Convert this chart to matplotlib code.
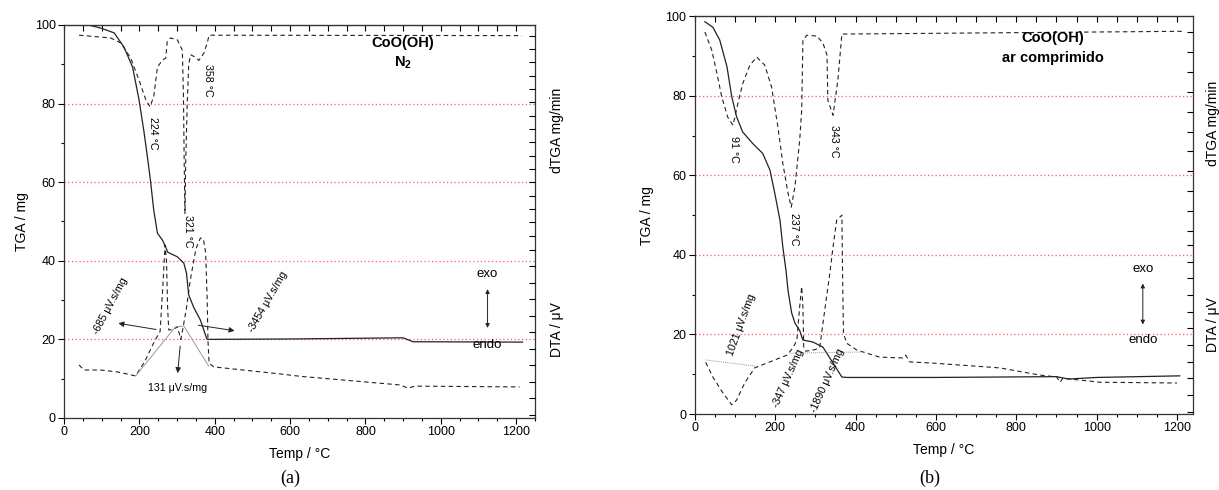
import numpy as np
import matplotlib
matplotlib.use("Agg")
import matplotlib.pyplot as plt
from matplotlib.ticker import MultipleLocator

plt.rcParams["font.family"] = ["Liberation Sans", "DejaVu Sans"]
plt.rcParams["mathtext.fontset"] = "custom"
plt.rcParams["mathtext.rm"] = "Liberation Sans"
plt.rcParams["mathtext.bf"] = "Liberation Sans:bold"

# -------------------------------------------------------
# (a) CoO(OH) under N2
# -------------------------------------------------------
a_tga_T = [40, 98, 133, 159, 182, 199, 212, 222, 230, 238, 248, 261, 270, 275,
           301, 318, 325, 331, 344, 362, 378, 380, 600, 900, 926, 1217]
a_tga = [100.6, 99.2, 98.0, 94.4, 89.3, 81.0, 73.0, 66.0, 60.0, 53.0, 47.0, 45.3,
         43.5, 42.2, 41.0, 39.4, 36.9, 31.3, 28.2, 24.9, 20.4, 20.0, 20.1, 20.4,
         19.4, 19.3]

a_dtga_T = [40, 124, 151, 177, 199, 217, 228, 238, 248, 261, 270, 274, 283, 301,
            314, 317, 319, 321, 323, 327, 331, 336, 345, 358, 371, 380, 385, 1215]
a_dtga = [97.4, 96.7, 95.4, 91.6, 86.0, 81.0, 79.2, 81.7, 89.3, 91.0, 91.6, 95.8,
          96.7, 96.2, 93.6, 82.0, 65.0, 52.0, 65.0, 80.0, 90.0, 92.4, 92.0, 91.0,
          92.8, 95.4, 97.4, 97.3]

a_dta_T = [40, 53, 98, 143, 190, 215, 240, 255, 262, 266, 268, 272, 275, 278, 290,
           301, 310, 316, 325, 335, 350, 362, 370, 376, 380, 382, 385, 397, 574,
           627, 892, 913, 931, 1209]
a_dta = [13.5, 12.2, 12.2, 11.7, 10.7, 14.5, 19.5, 22.0, 33.0, 40.0, 44.0, 40.0,
         28.0, 22.4, 22.5, 23.2, 20.0, 23.0, 28.0, 35.0, 43.0, 45.8, 45.5, 42.0,
         30.0, 20.0, 14.0, 13.0, 11.2, 10.6, 8.4, 7.6, 8.1, 7.9]

a_base_T = [190, 296, 318, 384]
a_base = [10.7, 23.2, 23.4, 13.2]

# -------------------------------------------------------
# (b) CoO(OH) in compressed air
# -------------------------------------------------------
b_tga_T = [25, 45, 62, 80, 92, 104, 119, 144, 169, 187, 199, 212, 219, 227, 232,
           241, 249, 261, 269, 294, 319, 344, 366, 380, 600, 900, 930, 1000, 1207]
b_tga = [98.6, 97.2, 94.0, 87.3, 79.7, 74.7, 70.9, 68.0, 65.5, 61.3, 55.5, 48.7,
         42.0, 36.0, 31.0, 25.4, 22.9, 21.0, 18.6, 18.1, 16.8, 12.8, 9.3, 9.2,
         9.2, 9.4, 8.8, 9.2, 9.6]

b_dtga_T = [25, 42, 55, 67, 82, 95, 107, 119, 137, 154, 174, 191, 207, 219, 232,
            240, 249, 261, 266, 269, 279, 304, 319, 329, 331, 344, 356, 366, 1215]
b_dtga = [96.0, 91.5, 85.6, 79.7, 74.6, 72.6, 78.0, 83.0, 87.7, 89.7, 87.7, 82.2,
          72.0, 63.0, 55.5, 52.0, 57.0, 68.8, 76.4, 94.0, 95.2, 95.0, 93.2, 90.2,
          78.9, 75.1, 83.9, 95.5, 96.2]

b_dta_T = [27, 45, 70, 92, 104, 124, 149, 179, 229, 244, 254, 261, 266, 269, 271,
           276, 300, 311, 319, 336, 344, 353, 366, 368, 370, 378, 403, 460, 518,
           525, 535, 593, 759, 859, 901, 909, 916, 1008, 1200]
b_dta = [13.0, 9.3, 5.3, 2.3, 3.5, 7.8, 11.6, 12.8, 14.8, 16.6, 18.6, 27.0, 32.0,
         27.0, 16.8, 15.8, 16.2, 16.8, 22.9, 35.4, 42.0, 48.7, 50.0, 32.9, 20.3,
         17.8, 16.1, 14.3, 14.1, 14.8, 13.1, 12.8, 11.6, 9.8, 9.3, 8.0, 9.0,
         8.0, 7.8]

b_base1_T = [27, 154]
b_base1 = [13.6, 12.0]
b_base2_T = [236, 416]
b_base2 = [15.3, 15.6]

line_col = "#222222"
grid_col = "#ff5c5c"

fig = plt.figure(figsize=(12.19, 4.90), dpi=100)
ax_a = fig.add_axes([0.0525, 0.147, 0.3864, 0.802])
ax_b = fig.add_axes([0.570, 0.155, 0.4087, 0.812])


def style_axes(ax, xmax, up_ticks, low_ticks, ypad):
    ax.set_xlim(0, xmax)
    ax.set_ylim(0, 100)
    ax.xaxis.set_major_locator(MultipleLocator(200))
    ax.xaxis.set_minor_locator(MultipleLocator(50))
    ax.yaxis.set_major_locator(MultipleLocator(20))
    ax.yaxis.set_minor_locator(MultipleLocator(10))
    ax.tick_params(axis="both", which="major", labelsize=9, length=4,
                   width=0.8, direction="out", pad=2)
    ax.tick_params(axis="both", which="minor", length=2.5, width=0.8,
                   direction="out")
    # pink dotted grid at 20, 40, 60, 80
    for g in ax.get_yticks()[1:-1]:
        ax.axhline(g, color=grid_col, lw=0.9, ls=(0, (1, 2)), zorder=0.5,
                   snap=True)
    for s in ax.spines.values():
        s.set_linewidth(0.9)
        s.set_color("#333333")
    # top ticks point inward
    sec = ax.secondary_xaxis("top")
    sec.xaxis.set_major_locator(MultipleLocator(50))
    sec.tick_params(direction="in", length=4, width=0.8, labeltop=False)
    # right spine ticks (dTGA / DTA scales), unlabeled, inward
    twin = ax.twinx()
    twin.set_ylim(0, 100)
    twin.set_yticks(list(up_ticks) + list(low_ticks))
    twin.tick_params(direction="in", length=4, width=0.8, labelright=False)
    for s in twin.spines.values():
        s.set_visible(False)
    ax.set_xlabel("Temp / °C", fontsize=10, labelpad=6)
    ax.set_ylabel("TGA / mg", fontsize=10, labelpad=ypad)


style_axes(ax_a, 1250, np.linspace(97.3, 46.4, 16), np.linspace(0.8, 42.8, 11), 4)
style_axes(ax_b, 1240, np.linspace(96.0, 46.0, 11), np.linspace(0.6, 42.5, 11), 8)

# ---------------- panel (a) curves ----------------
ax_a.plot(a_tga_T, a_tga, color=line_col, lw=0.9)
ax_a.plot(a_dtga_T, a_dtga, color=line_col, lw=0.8, ls=(0, (4, 3)))
ax_a.plot(a_dta_T, a_dta, color=line_col, lw=0.8, ls=(0, (4, 3)))
ax_a.plot(a_base_T, a_base, color="#999999", lw=0.7)

arr = dict(arrowstyle="-|>", color=line_col, lw=0.7, mutation_scale=8)
ax_a.annotate("", xy=(137, 24.2), xytext=(252, 22.4), arrowprops=arr)
ax_a.annotate("", xy=(460, 22.1), xytext=(349, 23.7), arrowprops=arr)
ax_a.annotate("", xy=(301, 10.7), xytext=(309, 19.0), arrowprops=arr)
ax_a.annotate("", xy=(1124, 33.5), xytext=(1124, 22.2),
              arrowprops=dict(arrowstyle="<|-|>", color=line_col, lw=0.7,
                              mutation_scale=6))

small = 7.7
ax_a.text(124, 28.5, "-685 μV.s/mg", rotation=62, fontsize=small,
          ha="center", va="center")
ax_a.text(540, 29.5, "-3454 μV.s/mg", rotation=60, fontsize=small,
          ha="center", va="center")
ax_a.text(301, 7.6, "131 μV.s/mg", fontsize=small, ha="center", va="center")
ax_a.text(237, 72.5, "224 °C", rotation=-90, fontsize=small, ha="center",
          va="center")
ax_a.text(381, 86.0, "358 °C", rotation=-90, fontsize=small, ha="center",
          va="center")
ax_a.text(329, 47.5, "321 °C", rotation=-90, fontsize=small, ha="center",
          va="center")
ax_a.text(900, 95.4, "CoO(OH)", fontsize=10.5, fontweight="bold", ha="center",
          va="center")
ax_a.text(900, 90.4, r"$\mathbf{N_2}$", fontsize=10.5, ha="center", va="center")
ax_a.text(1122, 36.6, "exo", fontsize=9.5, ha="center", va="center")
ax_a.text(1122, 18.6, "endo", fontsize=9.5, ha="center", va="center")
ax_a.text(1.047, 0.733, "dTGA mg/min", rotation=90, fontsize=10,
          transform=ax_a.transAxes, ha="center", va="center")
ax_a.text(1.047, 0.226, "DTA / μV", rotation=90, fontsize=10,
          transform=ax_a.transAxes, ha="center", va="center")

# ---------------- panel (b) curves ----------------
ax_b.plot(b_tga_T, b_tga, color=line_col, lw=0.9)
ax_b.plot(b_dtga_T, b_dtga, color=line_col, lw=0.8, ls=(0, (4, 3)))
ax_b.plot(b_dta_T, b_dta, color=line_col, lw=0.8, ls=(0, (4, 3)))
ax_b.plot(b_base1_T, b_base1, color="#999999", lw=0.7, ls=(0, (1, 1)))
ax_b.plot(b_base2_T, b_base2, color="#999999", lw=0.7, ls=(0, (1, 1)))

ax_b.annotate("", xy=(1115, 33.5), xytext=(1115, 21.8),
              arrowprops=dict(arrowstyle="<|-|>", color=line_col, lw=0.7,
                              mutation_scale=6))
ax_b.text(117, 22.4, "1021 μV.s/mg", rotation=70, fontsize=small,
          ha="center", va="center")
ax_b.text(232, 9.0, "-347 μV.s/mg", rotation=66, fontsize=small,
          ha="center", va="center")
ax_b.text(331, 8.5, "-1890 μV.s/mg", rotation=66, fontsize=small,
          ha="center", va="center")
ax_b.text(97, 66.5, "91 °C", rotation=-90, fontsize=small, ha="center",
          va="center")
ax_b.text(246, 46.5, "237 °C", rotation=-90, fontsize=small, ha="center",
          va="center")
ax_b.text(346, 68.5, "343 °C", rotation=-90, fontsize=small, ha="center",
          va="center")
ax_b.text(891, 94.5, "CoO(OH)", fontsize=10.5, fontweight="bold", ha="center",
          va="center")
ax_b.text(891, 89.4, "ar comprimido", fontsize=10.5, fontweight="bold",
          ha="center", va="center")
ax_b.text(1115, 36.4, "exo", fontsize=9.5, ha="center", va="center")
ax_b.text(1115, 18.6, "endo", fontsize=9.5, ha="center", va="center")
ax_b.text(1.04, 0.73, "dTGA mg/min", rotation=90, fontsize=10,
          transform=ax_b.transAxes, ha="center", va="center")
ax_b.text(1.04, 0.224, "DTA / μV", rotation=90, fontsize=10,
          transform=ax_b.transAxes, ha="center", va="center")

# panel captions
fig.text(290 / 1219, 1 - 478 / 490, "(a)", fontsize=13,
         family=["Liberation Serif", "DejaVu Serif"], ha="center", va="center")
fig.text(930 / 1219, 1 - 478 / 490, "(b)", fontsize=13,
         family=["Liberation Serif", "DejaVu Serif"], ha="center", va="center")

fig.savefig("out.png", dpi=100, facecolor="white")
